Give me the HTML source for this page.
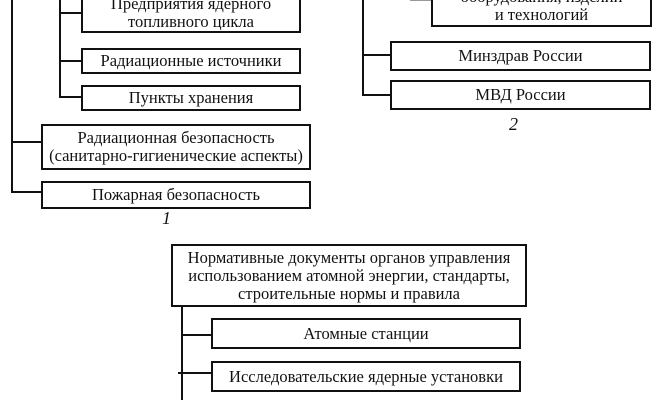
<!DOCTYPE html>
<html><head><meta charset="utf-8"><style>
body{margin:0;background:#fff;width:658px;height:400px;overflow:hidden;position:relative;font-family:"Liberation Serif",serif;color:#111}
.b{position:absolute;border:2px solid #111;box-sizing:border-box;display:flex;align-items:center;justify-content:center;text-align:center;font-size:16.5px;line-height:18px;background:#fff;white-space:nowrap}
.l{position:absolute;background:#111}
.n{position:absolute;font-style:italic;font-size:18px}
</style></head><body>
<div class="l" style="left:11px;top:0;width:2px;height:193px"></div>
<div class="l" style="left:59px;top:0;width:2px;height:98px"></div>
<div class="l" style="left:59px;top:12px;width:23px;height:2px"></div>
<div class="l" style="left:59px;top:60px;width:23px;height:2px"></div>
<div class="l" style="left:59px;top:96px;width:23px;height:2px"></div>
<div class="l" style="left:11px;top:141px;width:31px;height:2px"></div>
<div class="l" style="left:11px;top:191px;width:31px;height:2px"></div>
<div class="b" style="left:81px;top:-14px;width:220px;height:47px;padding-top:6px">Предприятия ядерного<br>топливного цикла</div>
<div class="b" style="left:81px;top:48px;width:220px;height:26px">Радиационные источники</div>
<div class="b" style="left:81px;top:85px;width:220px;height:26px">Пункты хранения</div>
<div class="b" style="left:41px;top:124px;width:270px;height:46px">Радиационная безопасность<br>(санитарно-гигиенические аспекты)</div>
<div class="b" style="left:41px;top:181px;width:270px;height:28px">Пожарная безопасность</div>
<div class="n" style="left:162px;top:208px">1</div>

<div class="l" style="left:362px;top:0;width:2px;height:96px"></div>
<div class="l" style="left:362px;top:54px;width:29px;height:2px"></div>
<div class="l" style="left:362px;top:94px;width:29px;height:2px"></div>
<div class="l" style="left:410px;top:0;width:22px;height:1px;background:#999"></div>
<div class="b" style="left:431px;top:-20px;width:221px;height:47px;padding-top:4px">оборудования, изделий<br>и технологий</div>
<div class="b" style="left:390px;top:41px;width:261px;height:30px">Минздрав России</div>
<div class="b" style="left:390px;top:80px;width:261px;height:30px">МВД России</div>
<div class="n" style="left:509px;top:114px">2</div>

<div class="l" style="left:181px;top:305px;width:2px;height:95px"></div>
<div class="l" style="left:181px;top:334px;width:31px;height:2px"></div>
<div class="l" style="left:178px;top:372px;width:34px;height:2px"></div>
<div class="b" style="left:171px;top:244px;width:356px;height:63px">Нормативные документы органов управления<br>использованием атомной энергии, стандарты,<br>строительные нормы и правила</div>
<div class="b" style="left:211px;top:318px;width:310px;height:31px">Атомные станции</div>
<div class="b" style="left:211px;top:361px;width:310px;height:31px">Исследовательские ядерные установки</div>
</body></html>
